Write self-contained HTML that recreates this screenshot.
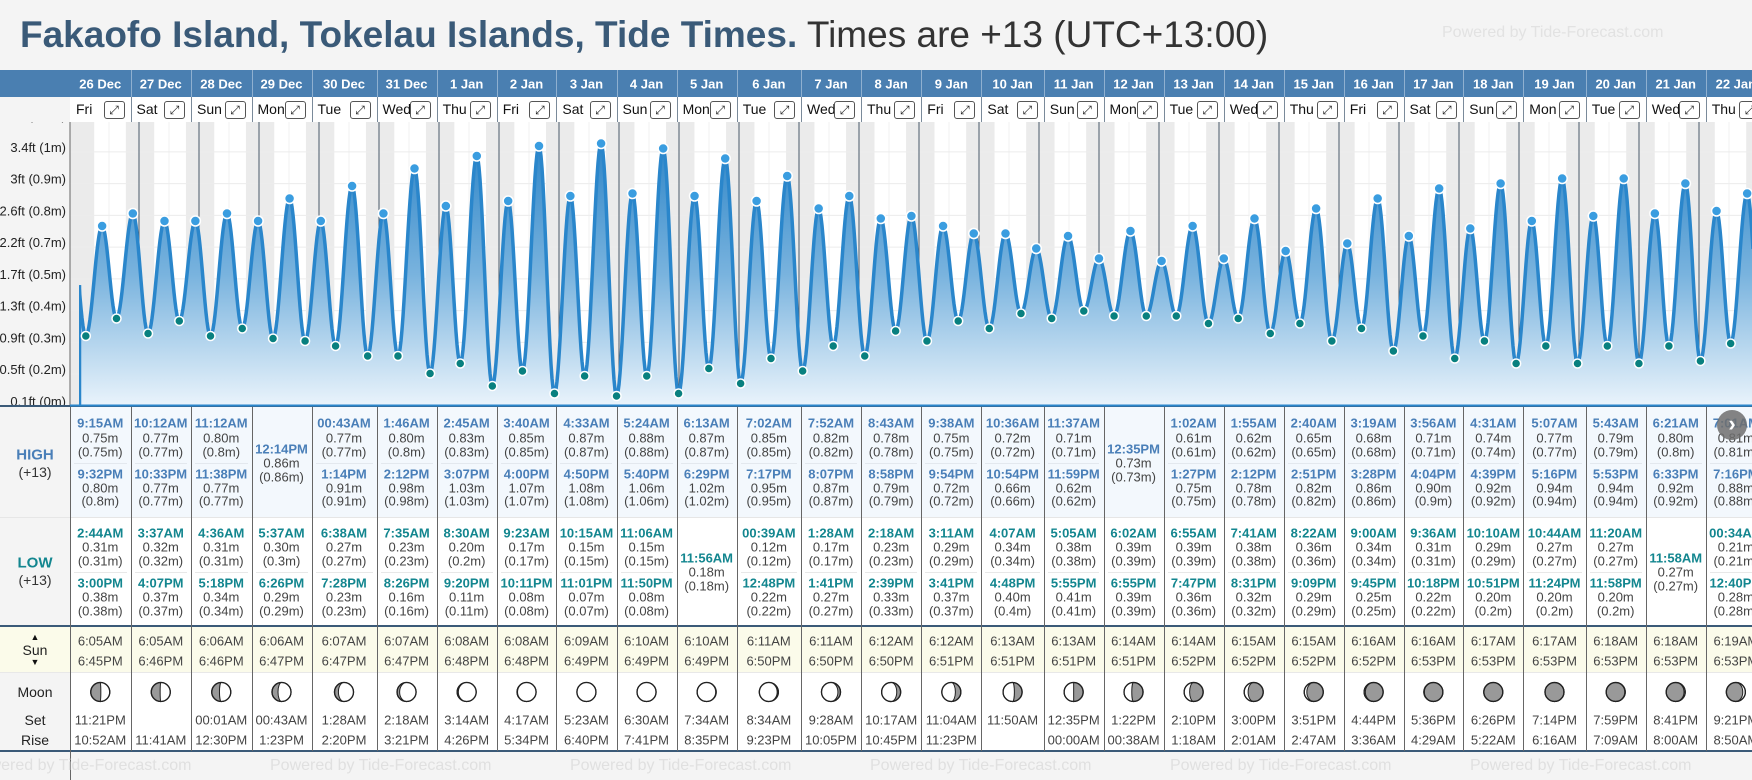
<!DOCTYPE html>
<html><head><meta charset="utf-8">
<style>
body{margin:0;width:1752px;height:780px;background:#f4f4f4;overflow:hidden;position:relative;font-family:"Liberation Sans",sans-serif;}
.a{position:absolute;white-space:nowrap;}
.c{text-align:center;transform:translate(-50%,-50%);}
#chart{z-index:2;pointer-events:none;}
</style></head><body>
<div class="a" style="left:20px;top:10px;font-size:37px;line-height:50px;color:#3a5a78;"><b>Fakaofo Island, Tokelau Islands, Tide Times.</b><span style="color:#333;font-weight:normal;"> Times are +13 (UTC+13:00)</span></div>
<div class="a" style="left:1442px;top:24px;font-size:16px;color:#e2e2e2;">Powered by Tide-Forecast.com</div>
<div id="tbl"></div>
<svg id="chart" class="a" style="left:0;top:0" width="1752" height="780"></svg>
<script>
const dates=['26 Dec','27 Dec','28 Dec','29 Dec','30 Dec','31 Dec','1 Jan','2 Jan','3 Jan','4 Jan','5 Jan','6 Jan','7 Jan','8 Jan','9 Jan','10 Jan','11 Jan','12 Jan','13 Jan','14 Jan','15 Jan','16 Jan','17 Jan','18 Jan','19 Jan','20 Jan','21 Jan','22 Jan'];
const weekdays=['Fri','Sat','Sun','Mon','Tue','Wed','Thu','Fri','Sat','Sun','Mon','Tue','Wed','Thu','Fri','Sat','Sun','Mon','Tue','Wed','Thu','Fri','Sat','Sun','Mon','Tue','Wed','Thu'];
const highTimes=[['9:15AM','9:32PM'],['10:12AM','10:33PM'],['11:12AM','11:38PM'],['12:14PM'],['00:43AM','1:14PM'],['1:46AM','2:12PM'],['2:45AM','3:07PM'],['3:40AM','4:00PM'],['4:33AM','4:50PM'],['5:24AM','5:40PM'],['6:13AM','6:29PM'],['7:02AM','7:17PM'],['7:52AM','8:07PM'],['8:43AM','8:58PM'],['9:38AM','9:54PM'],['10:36AM','10:54PM'],['11:37AM','11:59PM'],['12:35PM'],['1:02AM','1:27PM'],['1:55AM','2:12PM'],['2:40AM','2:51PM'],['3:19AM','3:28PM'],['3:56AM','4:04PM'],['4:31AM','4:39PM'],['5:07AM','5:16PM'],['5:43AM','5:53PM'],['6:21AM','6:33PM'],['7:01AM','7:16PM']];
const highVals=[[0.75,0.80],[0.77,0.77],[0.80,0.77],[0.86],[0.77,0.91],[0.80,0.98],[0.83,1.03],[0.85,1.07],[0.87,1.08],[0.88,1.06],[0.87,1.02],[0.85,0.95],[0.82,0.87],[0.78,0.79],[0.75,0.72],[0.72,0.66],[0.71,0.62],[0.73],[0.61,0.75],[0.62,0.78],[0.65,0.82],[0.68,0.86],[0.71,0.90],[0.74,0.92],[0.77,0.94],[0.79,0.94],[0.80,0.92],[0.81,0.88]];
const lowTimes=[['2:44AM','3:00PM'],['3:37AM','4:07PM'],['4:36AM','5:18PM'],['5:37AM','6:26PM'],['6:38AM','7:28PM'],['7:35AM','8:26PM'],['8:30AM','9:20PM'],['9:23AM','10:11PM'],['10:15AM','11:01PM'],['11:06AM','11:50PM'],['11:56AM'],['00:39AM','12:48PM'],['1:28AM','1:41PM'],['2:18AM','2:39PM'],['3:11AM','3:41PM'],['4:07AM','4:48PM'],['5:05AM','5:55PM'],['6:02AM','6:55PM'],['6:55AM','7:47PM'],['7:41AM','8:31PM'],['8:22AM','9:09PM'],['9:00AM','9:45PM'],['9:36AM','10:18PM'],['10:10AM','10:51PM'],['10:44AM','11:24PM'],['11:20AM','11:58PM'],['11:58AM'],['00:34AM','12:40PM']];
const lowVals=[[0.31,0.38],[0.32,0.37],[0.31,0.34],[0.30,0.29],[0.27,0.23],[0.23,0.16],[0.20,0.11],[0.17,0.08],[0.15,0.07],[0.15,0.08],[0.18],[0.12,0.22],[0.17,0.27],[0.23,0.33],[0.29,0.37],[0.34,0.40],[0.38,0.41],[0.39,0.39],[0.39,0.36],[0.38,0.32],[0.36,0.29],[0.34,0.25],[0.31,0.22],[0.29,0.20],[0.27,0.20],[0.27,0.20],[0.27],[0.21,0.28]];
const sunrise=['6:05AM','6:05AM','6:06AM','6:06AM','6:07AM','6:07AM','6:08AM','6:08AM','6:09AM','6:10AM','6:10AM','6:11AM','6:11AM','6:12AM','6:12AM','6:13AM','6:13AM','6:14AM','6:14AM','6:15AM','6:15AM','6:16AM','6:16AM','6:17AM','6:17AM','6:18AM','6:18AM','6:19AM'];
const sunset=['6:45PM','6:46PM','6:46PM','6:47PM','6:47PM','6:47PM','6:48PM','6:48PM','6:49PM','6:49PM','6:49PM','6:50PM','6:50PM','6:50PM','6:51PM','6:51PM','6:51PM','6:51PM','6:52PM','6:52PM','6:52PM','6:52PM','6:53PM','6:53PM','6:53PM','6:53PM','6:53PM','6:53PM'];
const moonSet=['11:21PM','','00:01AM','00:43AM','1:28AM','2:18AM','3:14AM','4:17AM','5:23AM','6:30AM','7:34AM','8:34AM','9:28AM','10:17AM','11:04AM','11:50AM','12:35PM','1:22PM','2:10PM','3:00PM','3:51PM','4:44PM','5:36PM','6:26PM','7:14PM','7:59PM','8:41PM','9:21PM'];
const moonRise=['10:52AM','11:41AM','12:30PM','1:23PM','2:20PM','3:21PM','4:26PM','5:34PM','6:40PM','7:41PM','8:35PM','9:23PM','10:05PM','10:45PM','11:23PM','','00:00AM','00:38AM','1:18AM','2:01AM','2:47AM','3:36AM','4:29AM','5:22AM','6:16AM','7:09AM','8:00AM','8:50AM'];
const moonPhase=[0.24,0.26,0.28,0.31,0.35,0.38,0.42,0.45,0.49,0.52,0.55,0.58,0.62,0.65,0.68,0.72,0.75,0.78,0.82,0.85,0.88,0.92,0.95,0.98,0.02,0.05,0.08,0.12];
const yTickFt=[0.1,0.517,0.933,1.35,1.767,2.183,2.6,3.017,3.433,3.85];
const yTickLabels=['0.1ft (0m)','0.5ft (0.2m)','0.9ft (0.3m)','1.3ft (0.4m)','1.7ft (0.5m)','2.2ft (0.7m)','2.6ft (0.8m)','3ft (0.9m)','3.4ft (1m)','3.8ft (1.2m)'];
const prevHigh={t:-3.4,v:0.80};
const nextLow={t:27*24+25.2,v:0.22};

const colEdges=[70,130.5,191,251.5,311.5,376.5,436.6,496.7,556.4,616.5,676.6,736.7,801,861,921.3,981.4,1043.8,1103.5,1163.6,1223.7,1283.7,1343.8,1403.5,1463.3,1523.3,1585.7,1645.7,1705.7,1766];
const X0=79,PXD=60,CT=122,CB=405;
const xS=h=>X0+PXD*h/24;
const yS=m=>413.5-250*m;
function hrs(s){const m=s.match(/(\d+):(\d+)(AM|PM)/);let h=+m[1]%12;if(m[3]==='PM')h+=12;return h+ +m[2]/60;}
const NS='http://www.w3.org/2000/svg';
const svg=document.getElementById('chart');
function sv(tag,at,parent){const e=document.createElementNS(NS,tag);for(const k in at)e.setAttribute(k,at[k]);(parent||svg).appendChild(e);return e;}
const tbl=document.getElementById('tbl');
function dv(css,txt){const d=document.createElement('div');d.className='a';d.style.cssText=css;if(txt!==undefined)d.textContent=txt;tbl.appendChild(d);return d;}

const defs=sv('defs',{});
const g=sv('linearGradient',{id:'fillg',x1:0,y1:0,x2:0,y2:1,gradientUnits:'objectBoundingBox'},defs);
sv('stop',{offset:'0','stop-color':'#2f86c8'},g);sv('stop',{offset:'0.5','stop-color':'#79b3de'},g);sv('stop',{offset:'1','stop-color':'#e9f3fb'},g);
const cp=sv('clipPath',{id:'cc'},defs);sv('rect',{x:X0,y:CT,width:1752-X0,height:CB-CT},cp);
const cpl=sv('clipPath',{id:'cl'},defs);sv('rect',{x:0,y:CT,width:70,height:CB-CT},cpl);

const leftBg=sv('rect',{x:0,y:CT,width:70,height:CB-CT,fill:'#f4f4f4'});


sv('rect',{x:70,y:CT,width:1682,height:CB-CT,fill:'#fff'});
sv('rect',{x:70,y:CT,width:X0-70,height:CB-CT,fill:'#ebebeb'});
sv('rect',{x:X0,y:CT,width:xS(hrs(sunrise[0]))-X0,height:CB-CT,fill:'#ebebeb'});
for(let d=0;d<dates.length;d++){
  const s=xS(d*24+hrs(sunset[d])),e=xS((d+1)*24+hrs(sunrise[Math.min(d+1,dates.length-1)]));
  const r=sv('rect',{x:s,y:CT,width:Math.max(0,Math.min(e,1752)-s),height:CB-CT,fill:'#ebebeb'});
  
  
  sv('line',{x1:xS(d*24+12),x2:xS(d*24+12),y1:CT,y2:CB,stroke:'#f0f0f0','stroke-width':1});
}
const lg=sv('g',{'clip-path':'url(#cl)'});
yTickFt.forEach((f,i)=>{
  const y=yS(f*0.3048);
  if(y>CT) sv('line',{x1:70,x2:1752,y1:y,y2:y,stroke:'#ececec','stroke-width':1});
  const t=sv('text',{x:66,y:y,'text-anchor':'end','font-size':13,fill:'#222','font-family':'Liberation Sans, sans-serif'},lg);
  t.textContent=yTickLabels[i];
  
  
});
sv('line',{x1:70,x2:70,y1:CT,y2:CB,stroke:'#666','stroke-width':1});

const ext=[prevHigh];
const hiPts=[],loPts=[];
for(let d=0;d<dates.length;d++){
  highTimes[d].forEach((t,i)=>{const p={t:d*24+hrs(t),v:highVals[d][i]};ext.push(p);hiPts.push(p);});
  lowTimes[d].forEach((t,i)=>{const p={t:d*24+hrs(t),v:lowVals[d][i]};ext.push(p);loPts.push(p);});
}
ext.push(nextLow);ext.sort((a,b)=>a.t-b.t);
function lvl(h){for(let i=0;i<ext.length-1;i++){const a=ext[i],b=ext[i+1];if(h>=a.t&&h<=b.t){const f=(h-a.t)/(b.t-a.t);return a.v+(b.v-a.v)*(1-Math.cos(Math.PI*f))/2;}}return ext[ext.length-1].v;}
let pts=[];
for(let x=X0;x<=1753;x+=1){pts.push([x,yS(lvl((x-X0)/PXD*24))]);}
const lineD='M'+pts.map(p=>p[0]+','+p[1].toFixed(1)).join('L');
const cg=sv('g',{'clip-path':'url(#cc)'});
const area=sv('path',{d:lineD+`L1753,${CB}L${X0},${CB}Z`,fill:'url(#fillg)'},cg);


for(let d=1;d<dates.length;d++){
  const x=xS(d*24);
  sv('line',{x1:x,x2:x,y1:CT,y2:yS(lvl(d*24)),stroke:'#4a5a6a','stroke-width':1},cg);
}
const ln=sv('path',{d:lineD,fill:'none',stroke:'#2a86cb','stroke-width':3.5},cg);


sv('line',{x1:X0+1,x2:X0+1,y1:yS(lvl(0)),y2:CB,stroke:'#2a86cb','stroke-width':2.5},cg);
hiPts.forEach(p=>{const c=sv('circle',{cx:xS(p.t),cy:yS(p.v),r:5,fill:'#3a9de0',stroke:'#fff','stroke-width':1.5},cg);
  
  });
loPts.forEach(p=>{const c=sv('circle',{cx:xS(p.t),cy:yS(p.v),r:4.5,fill:'#08807f',stroke:'#fff','stroke-width':1.5},cg);
  
  });
sv('line',{x1:70,x2:1752,y1:CB+0.5,y2:CB+0.5,stroke:'#2a86cb','stroke-width':2});

const hb=dv('left:0;top:70px;width:1752px;height:27px;background:#4a7fb1;');


dv('left:70px;top:97px;width:1682px;height:25px;background:#fff;');
dv('left:0;top:407px;width:1752px;height:110px;background:#f3f8fd;');
dv('left:0;top:517px;width:1752px;height:109px;background:#fff;');
dv('left:0;top:626px;width:1752px;height:46px;background:#fbfbea;');
dv('left:0;top:672px;width:1752px;height:79px;background:#fff;');
dv('left:0;top:407px;width:70px;height:219px;background:#f4f4f4;');
dv('left:0;top:672px;width:70px;height:79px;background:#f4f4f4;');
dv('left:0;top:405px;width:1752px;height:2px;background:#3b5a78;');
dv('left:0;top:517px;width:1752px;height:1px;background:#e6e6e6;');
dv('left:0;top:625px;width:1752px;height:2px;background:#3b5a78;');
dv('left:0;top:672px;width:1752px;height:1px;background:#e8e8e8;');
dv('left:0;top:750px;width:1752px;height:2px;background:#3b5a78;');
dv('left:70px;top:407px;width:1px;height:373px;background:#666;');
const lab=(txt,y,css,name)=>{const d=dv(`left:35px;top:${y}px;${css}`,txt);d.classList.add('c');
  
  };
lab('HIGH',455,'font-size:15px;font-weight:bold;color:#4a7fb8;','high-label');
lab('(+13)',472,'font-size:14px;color:#333;','high-tz-label');
lab('LOW',563,'font-size:15px;font-weight:bold;color:#13868f;','low-label');
lab('(+13)',580,'font-size:14px;color:#333;','low-tz-label');
lab('▲',637,'font-size:9px;color:#111;','sunrise-arrow');
lab('Sun',650,'font-size:14px;color:#222;','sun-label');
lab('▼',662,'font-size:9px;color:#111;','sunset-arrow');
lab('Moon',692,'font-size:14px;color:#222;','moon-label');
lab('Set',720,'font-size:14px;color:#222;','moonset-label');
lab('Rise',740,'font-size:14px;color:#222;','moonrise-label');

const txt=(x,y,t,css,name)=>{const d=dv(`left:${x}px;top:${y}px;font-size:13px;color:#444;${css}`,t);d.classList.add('c');
  
  return d;};
const fmt=v=>v.toFixed(2)+'m', fmt2=v=>'('+(+v.toFixed(2))+'m)';
for(let d=0;d<dates.length;d++){
  const l=colEdges[d],r=colEdges[d+1],cx=(l+r)/2,w=r-l;
  if(d>0){dv(`left:${l}px;top:70px;width:1px;height:27px;background:#8fb0d0;`);
    dv(`left:${l}px;top:97px;width:1px;height:25px;background:#7a8a9a;`);
    dv(`left:${l}px;top:407px;width:1px;height:344px;background:#666;`);}
  txt(cx,84,dates[d],'color:#fff;font-weight:bold;font-size:13px;','date-header');
  const wd=dv(`left:${l+6}px;top:101px;font-size:14px;color:#111;`,weekdays[d]);
  
  
  const ex=dv(`left:${r-27}px;top:101px;width:19px;height:16px;border:1px solid #555;border-radius:3px;font-size:12px;line-height:16px;text-align:center;color:#222;background:#fff;`,'⤢');
  
  
  const hy=highTimes[d].length===2?[[423,437.5,451.5],[473.5,487.5,501]]:[[448.5,462.5,476.5]];
  highTimes[d].forEach((t,i)=>{const Y=hy[i];
    txt(cx,Y[0],t,'font-weight:bold;color:#4a7fb8;font-size:13px;','high-time');
    txt(cx,Y[1],fmt(highVals[d][i]),'','high-height');
    txt(cx,Y[2],fmt2(highVals[d][i]),'','high-height-alt');});
  if(highTimes[d].length===2)dv(`left:${l+4}px;top:463px;width:${w-8}px;height:1px;background:#e3e8ee;`);
  const ly=lowTimes[d].length===2?[[532.5,546.7,560.5],[582.5,597,610.5]]:[[557.7,571.7,585.7]];
  lowTimes[d].forEach((t,i)=>{const Y=ly[i];
    txt(cx,Y[0],t,'font-weight:bold;color:#13868f;font-size:13px;','low-time');
    txt(cx,Y[1],fmt(lowVals[d][i]),'','low-height');
    txt(cx,Y[2],fmt2(lowVals[d][i]),'','low-height-alt');});
  if(lowTimes[d].length===2)dv(`left:${l+4}px;top:572px;width:${w-8}px;height:1px;background:#e8e8e8;`);
  txt(cx,641,sunrise[d],'','sunrise-time');
  txt(cx,661,sunset[d],'','sunset-time');
  if(moonSet[d])txt(cx,720,moonSet[d],'','moonset-time');
  if(moonRise[d])txt(cx,740,moonRise[d],'','moonrise-time');
  const p=moonPhase[d],R=9.5,my=692;
  const mc=sv('circle',{cx:cx,cy:my,r:R,fill:'#999',stroke:'#222','stroke-width':1.3});
  
  
  const k=Math.abs(Math.cos(2*Math.PI*p))*R;
  let path;
  if(p<0.5){
    path=`M${cx},${my-R}A${R},${R} 0 0 1 ${cx},${my+R}A${k},${R} 0 0 ${p<0.25?0:1} ${cx},${my-R}Z`;
  } else {
    path=`M${cx},${my-R}A${R},${R} 0 0 0 ${cx},${my+R}A${k},${R} 0 0 ${p>0.75?1:0} ${cx},${my-R}Z`;
  }
  sv('path',{d:path,fill:'#fff',stroke:'#222','stroke-width':1});
  sv('circle',{cx:cx,cy:my,r:R,fill:'none',stroke:'#222','stroke-width':1.3});
}
const nb=dv('left:1717px;top:410px;width:30px;height:30px;border-radius:15px;background:rgba(110,110,110,0.85);color:#fff;font-size:22px;line-height:28px;text-align:center;font-weight:bold;z-index:3;','›');


for(let i=0;i<6;i++){const w=dv(`left:${-30+i*300}px;top:757px;font-size:16px;color:#e0e0e0;`,'Powered by Tide-Forecast.com');
  
  }
</script>
</body></html>
